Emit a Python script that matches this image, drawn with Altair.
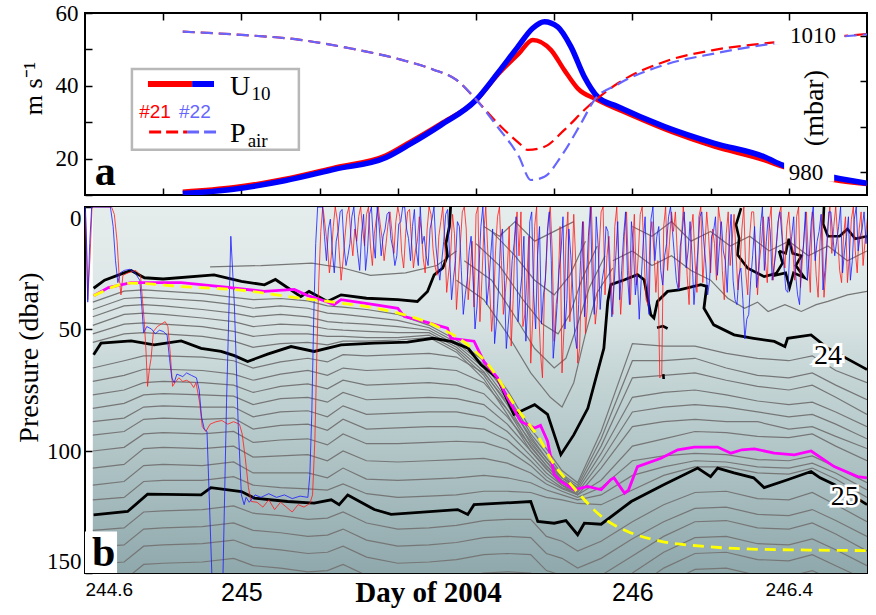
import altair as alt
import pandas as pd

SERIF = "Liberation Serif"
SANS = "Liberation Sans"

# ---------------- (a) wind speed U10 and air pressure, floats #21 / #22 ----------------
u10_21_day = [244.85, 244.98, 245.11, 245.24, 245.37, 245.43, 245.51, 245.60, 245.655, 245.71, 245.745,
              245.792, 245.826, 245.86, 245.911, 245.996, 246.099, 246.21, 246.337, 246.384, 246.516, 246.6]
u10_21 = [10.9, 12.1, 14.4, 17.6, 20.9, 24.5, 29.6, 36.0, 43.0, 48.9, 52.6,
          49.8, 44.3, 39.3, 36.1, 32.0, 27.4, 23.3, 19.6, 17.8, 14.1, 13.0]
u10_22_day = [244.85, 244.98, 245.11, 245.24, 245.37, 245.43, 245.51, 245.60, 245.655, 245.707, 245.745,
              245.775, 245.809, 245.843, 245.877, 245.911, 245.962, 246.082, 246.21, 246.337, 246.384, 246.516, 246.6]
u10_22 = [10.4, 11.6, 13.9, 17.1, 20.3, 23.9, 29.2, 36.1, 43.4, 50.7, 55.8,
          57.6, 56.2, 50.7, 42.5, 37.0, 34.3, 28.8, 24.2, 20.5, 18.2, 14.8, 13.2]
pair_21_day = [244.85, 244.98, 245.15, 245.28, 245.41, 245.49, 245.55, 245.60, 245.655, 245.71, 245.732,
               245.775, 245.826, 245.886, 245.962, 246.082, 246.21, 246.337, 246.45, 246.52, 246.6]
pair_21 = [1010.9, 1010.3, 1009.1, 1007.2, 1004.7, 1002.6, 1000.3, 996.0, 990.8, 986.4, 984.9,
           985.6, 989.3, 994.4, 999.5, 1004.3, 1006.9, 1008.3, 1009.3, 1009.8, 1010.4]
pair_22_day = [244.85, 244.98, 245.15, 245.28, 245.41, 245.49, 245.55, 245.60, 245.655, 245.71, 245.74,
               245.775, 245.817, 245.869, 245.903, 245.962, 246.082, 246.21, 246.337, 246.45, 246.52, 246.6]
pair_22 = [1010.9, 1010.3, 1009.1, 1007.2, 1004.7, 1002.6, 1000.3, 996.0, 990.0, 983.4, 978.3,
           979.0, 983.4, 990.8, 995.9, 999.3, 1003.6, 1006.1, 1008.0, 1009.1, 1009.7, 1010.3]
pair_ticks = [980, 990, 1000, 1010]
pair_labels = ["1010", "980"]

# ---------------- (b) pressure section ----------------
# sampling days shared by the gray isopycnals
T = [244.62, 244.70, 244.75, 244.80, 244.90, 244.98, 245.03, 245.10, 245.17, 245.22, 245.26, 245.32,
     245.40, 245.48, 245.55, 245.62, 245.68, 245.74, 245.78, 245.82, 245.86, 245.92, 246.00, 246.08,
     246.16, 246.24, 246.32, 246.40, 246.46, 246.52, 246.60]
gray_iso = [
    [39, 34.5, 34, 34.5, 35.5, 37, 38, 37.5, 38.5, 40.5, 41, 42, 44, 48.5, 54.5, 63, 75, 91, 99, 108, 113, 92, 56, 57, 57, 60, 62, 63, 61, 67, 72],
    [42, 37.5, 37, 37.5, 38.5, 40, 41.5, 40.5, 41.5, 43.5, 44, 45, 46.5, 49.5, 55.5, 64.5, 77, 93, 101, 109.5, 114, 95, 63, 63, 62, 66, 69, 70, 68, 73, 79],
    [45, 40.5, 40, 40.5, 42, 43.5, 45, 44, 45, 47, 47.5, 48, 49, 50.5, 56.5, 66, 79, 95, 103, 111, 115, 98, 70, 69, 68, 71, 73.5, 75, 73, 78, 85],
    [48.5, 44, 43.5, 44, 45.5, 47, 49, 48, 48.5, 50, 50.5, 51, 51.5, 51.5, 57.5, 67.5, 81, 97, 104.5, 112, 116, 101, 78, 76, 75, 77, 79.5, 81, 80, 84, 90],
    [52, 48, 47.5, 48, 49, 51, 53, 52, 52, 53, 53, 53.5, 53.5, 52.5, 58.5, 69, 83, 98.5, 106, 113, 117, 104, 84, 82, 81, 82, 84, 86, 85, 89, 95],
    [55.5, 52, 51.5, 52, 53, 55, 57.5, 56, 55.5, 56.5, 55, 55, 54.5, 53.5, 59.5, 70.5, 85, 100, 107, 114, 118, 107, 90, 88, 87, 88, 88, 91, 90, 94, 99],
    [66, 63, 61, 61, 61.5, 63, 66, 63.5, 62, 63.5, 60.5, 61, 60.5, 60, 61.5, 68, 80, 94, 103, 110, 115],
    [71.5, 69, 66.5, 66.5, 67, 68.5, 71, 68.5, 67, 69, 66, 67, 66.5, 66, 67, 72, 83, 96, 104.5, 111, 115.5],
    [77, 75, 72, 71.5, 72, 73, 76, 73.5, 72.5, 74.5, 71, 73, 72.5, 72, 73, 76.5, 86, 98, 106, 112, 116],
    [82.5, 80.5, 77, 76.5, 77, 77.5, 81, 78.5, 78, 80, 76, 79, 78.5, 78, 78.5, 81, 89, 100, 107.5, 113, 116.5],
    [88, 86.5, 82, 81.5, 82, 82, 86, 84, 83.5, 86, 81.5, 85, 84.5, 84, 84, 86, 92, 102, 109, 114, 117],
    [93.5, 92, 87, 86.5, 87, 86.5, 91, 89.5, 89, 91.5, 87, 91, 90.5, 90, 90, 91, 95.5, 104, 110.5, 115, 117.5],
    [100, 98.5, 93, 92.5, 93, 92, 96.5, 95.5, 95, 97.5, 93, 97, 97, 96.5, 96, 96.5, 99.5, 106, 112, 115.5, 118, 112, 98, 95, 92, 92.5, 94, 94.5, 93, 98, 104],
    [107, 105.5, 99, 98.5, 99, 98, 102.5, 102, 101.5, 104, 100, 104, 104.5, 104, 103.5, 103, 105, 109, 113.5, 116.5, 119, 115, 104, 102, 101, 101.5, 103.5, 104, 102, 106.5, 113],
    [114, 112.5, 106, 105.5, 106, 104.5, 109, 109, 109, 111, 107, 111.5, 112, 111.5, 111, 110, 111, 113, 116, 118, 120, 118, 110, 106.5, 104, 104.5, 106.5, 107, 105, 109, 116],
    [120, 119, 112.5, 112, 112, 110.5, 114, 115, 115.5, 116, 113.5, 117.5, 119, 118.5, 118, 116.5, 116.5, 117, 119, 120, 121.5, 122, 116, 110, 106.5, 106.5, 109, 109.5, 107, 111.5, 119],
    [132.5, 131.5, 125, 124.5, 124, 122.5, 125.5, 126.5, 128, 127.5, 125, 129.5, 132, 131.5, 130.5, 128.5, 128, 128, 135, 137, 141, 137, 129, 122, 117, 116.5, 119.5, 120, 117, 122, 129],
    [139.5, 138.5, 132, 131.5, 131, 129.5, 132.5, 133.5, 135, 134.5, 132, 136.5, 139, 138.5, 137.5, 135.5, 135, 135.5, 142, 144, 148, 144, 136, 129, 123.5, 123, 126, 126.5, 124, 128.5, 135],
    [146.5, 145.5, 139, 138.5, 138, 136.5, 139.5, 140.5, 142, 141.5, 139, 143.5, 146, 145.5, 144.5, 142.5, 142, 142.5, 149, 151, 155, 151, 143, 135, 129, 128.5, 131.5, 132, 129.5, 134, 141],
    [154, 153, 146.5, 146, 145.5, 144, 147, 148, 149.5, 149, 146.5, 151, 153.5, 153, 152, 150, 149.5, 150, 156, 158, 162, 158, 150, 141.5, 135.5, 135, 138, 138.5, 136, 140.5, 147],
    [161, 160, 154, 153.5, 153, 151.5, 154.5, 155.5, 157, 156.5, 154, 158.5, 161, 160.5, 159.5, 157.5, 157, 157.5, 163, 165, 169, 165, 157, 148, 142, 141.5, 144.5, 145, 142.5, 147, 153],
    [168, 167, 161, 160.5, 160, 158.5, 161.5, 162.5, 164, 163.5, 161, 165.5, 168, 167.5, 166.5, 164.5, 164, 164.5, 170, 172, 176, 172, 164, 155, 148.5, 148, 151, 151.5, 149, 153.5, 160],
]
# contours pushed down inside the trough, and the wavy ones near the surface
funnel_day = [
    [245.55, 245.62, 245.68, 245.74, 245.79, 245.82, 245.85, 245.88, 245.91, 245.95],
    [245.57, 245.64, 245.70, 245.75, 245.80, 245.83, 245.86, 245.89, 245.93],
    [245.60, 245.66, 245.72, 245.77, 245.81, 245.84, 245.87, 245.91],
    [245.64, 245.70, 245.75, 245.80, 245.84, 245.88],
    [244.92, 245.05, 245.18, 245.26, 245.33, 245.42, 245.50, 245.55],
    [245.95, 246.0, 246.05, 246.1, 246.15, 246.2, 246.244, 246.287, 246.32, 246.347, 246.39, 246.432, 246.47, 246.5, 246.55, 246.6],
    [246.0, 246.05, 246.1, 246.15, 246.2, 246.25, 246.3, 246.35, 246.4, 246.45, 246.5, 246.55, 246.6],
    [245.62, 245.66, 245.70, 245.75, 245.80, 245.85],
]
funnel_p = [
    [30, 38, 52, 68, 78, 82, 72, 52, 35, 25],
    [22, 30, 45, 58, 66, 62, 48, 33, 20],
    [15, 24, 38, 48, 52, 44, 30, 16],
    [10, 20, 30, 36, 28, 14],
    [24.5, 24, 23, 25, 28, 27, 24, 18],
    [22, 18, 24, 20, 26, 30, 37.4, 41.5, 39, 42.8, 40, 42.8, 40, 38.7, 36, 34.6],
    [8, 12, 6, 14, 10, 16, 12, 18, 14, 20, 16, 22, 18],
    [8, 12, 6, 14, 10, 6],
]

# bold isopycnals
top_black_day = [244.622, 244.65, 244.70, 244.718, 244.752, 244.80, 244.93, 245.0, 245.059, 245.087, 245.152, 245.173,
                 245.22, 245.255, 245.32, 245.40, 245.45, 245.476, 245.493, 245.515, 245.527, 245.523, 245.532, 245.535]
top_black_p = [33.3, 30, 27, 26, 29, 29.5, 27.8, 30.5, 31.9, 29.7, 36.7, 34.6,
               38.7, 36, 37.4, 38, 38.7, 34.6, 27.8, 25, 20, 15, 8, 0]
iso24_day = [244.622, 244.641, 244.718, 244.777, 244.846, 244.897, 244.948, 244.982, 245.016, 245.067, 245.127, 245.186,
             245.255, 245.34, 245.425, 245.49, 245.536, 245.58, 245.613, 245.655, 245.697, 245.75, 245.783, 245.817,
             245.85, 245.886, 245.927, 245.937, 245.945, 245.98, 246.013, 246.03, 246.047, 246.055, 246.064, 246.09,
             246.12, 246.175, 246.19, 246.183, 246.208, 246.26, 246.31, 246.363, 246.39, 246.397, 246.457, 246.50,
             246.577, 246.6]
iso24_p = [60.6, 55.8, 54.9, 56.5, 54.9, 57.9, 59.2, 60.9, 63.3, 60.3, 57.2, 59.2,
           56.5, 55.8, 55.4, 53.8, 55.1, 57.9, 64.7, 70.2, 85, 81, 85, 101.5,
           93.4, 82.5, 57.9, 38.7, 31.8, 29.8, 27.7, 29.8, 44.2, 45.5, 38.7, 34.6,
           34, 31.8, 32.5, 41.5, 48.3, 52.4, 53.8, 55.1, 57.2, 53.8, 52.4, 57.9,
           64.6, 66.6]
iso25_day = [244.622, 244.709, 244.76, 244.897, 244.922, 245.0, 245.033, 245.118, 245.186, 245.23, 245.25, 245.272,
             245.34, 245.383, 245.553, 245.579, 245.595, 245.74, 245.758, 245.8, 245.83, 245.86, 245.877, 245.92,
             245.997, 246.08, 246.167, 246.2, 246.218, 246.26, 246.31, 246.337, 246.397, 246.457, 246.48, 246.52, 246.6]
iso25_p = [126.2, 124.8, 117.7, 118, 115, 116.6, 119.3, 120.7, 121.4, 120, 122, 118,
           124, 126, 124, 126, 122, 120.7, 128.9, 129.6, 128.5, 134.3, 129.6, 130,
           120.7, 113.8, 107, 110.5, 107, 109, 111, 115, 111.8, 108.4, 111, 114, 122]
patch_day = [
    [246.278, 246.265, 246.273, 246.269, 246.295, 246.337, 246.371],
    [246.375, 246.392, 246.400, 246.410, 246.432, 246.418, 246.440, 246.412, 246.402, 246.392, 246.365, 246.384, 246.375],
    [246.49, 246.488, 246.50, 246.53, 246.55, 246.57, 246.6],
    [246.063, 246.078, 246.09],
    [246.079, 246.08],
]
patch_p = [
    [0.5, 7.3, 12.8, 19.6, 25.1, 28.5, 27.1],
    [18, 19, 13, 19, 20, 24, 29, 27, 33, 27, 28, 23, 18],
    [0, 7, 12, 12, 9, 13, 12],
    [49.5, 48.8, 49.8],
    [68.5, 70.5],
]

magenta_day = [244.622, 244.66, 244.718, 244.846, 244.948, 245.058, 245.135, 245.17, 245.204, 245.237, 245.255, 245.34,
               245.40, 245.417, 245.468, 245.527, 245.536, 245.595, 245.62, 245.655, 245.681, 245.715, 245.75, 245.765,
               245.783, 245.80, 245.817, 245.851, 245.886, 245.92, 245.945, 245.953, 245.98, 245.99, 246.013, 246.073,
               246.116, 246.158, 246.218, 246.252, 246.28, 246.312, 246.363, 246.414, 246.457, 246.516, 246.576, 246.6]
magenta_p = [36.4, 33, 31, 31, 32.6, 34.6, 33.8, 36.3, 38, 40, 38, 40,
             41.5, 44.9, 47, 49.7, 53.8, 55, 63.3, 70, 78.4, 88, 90.6, 89.5,
             96, 109.6, 112.5, 115.9, 114.5, 115.9, 111.7, 111, 117.3, 116, 106.4, 103,
             99.5, 98.4, 98.4, 100.9, 99.5, 99.1, 100.9, 101.6, 100, 106.4, 110.5, 111]
yellow_day = [244.622, 244.718, 244.846, 245.016, 245.118, 245.255, 245.383, 245.51, 245.579, 245.638, 245.698,
              245.766, 245.80, 245.843, 245.93, 245.988, 246.073, 246.176, 246.304, 246.45, 246.6]
yellow_p = [36.4, 31.2, 32.6, 34.4, 36.7, 39.4, 42.8, 49.7, 56.5, 66, 81,
            96, 105.6, 113.8, 128, 133, 137, 139, 140.2, 140.6, 140.8]

# mixed-layer depth, float #21 (red) and #22 (blue)
red_day = [244.601, 244.607, 244.613, 244.618, 244.668, 244.675, 244.682, 244.688, 244.692, 244.697, 244.71, 244.73,
           244.742, 244.747, 244.752, 244.756, 244.760, 244.765, 244.769, 244.775, 244.785, 244.795, 244.805, 244.812,
           244.818, 244.824, 244.83, 244.84, 244.85, 244.86, 244.87, 244.878, 244.884, 244.893, 244.90, 244.909,
           244.92, 244.935, 244.95, 244.965, 244.98, 244.995, 245.002, 245.01, 245.018, 245.025, 245.04, 245.055,
           245.07, 245.085, 245.10, 245.115, 245.13, 245.145, 245.16, 245.175, 245.182, 245.188, 245.193, 245.198,
           245.203, 245.208]
red_p = [2, 38, 20, 0, 0, 3, 14, 30, 36, 28, 27, 26,
         28, 38, 48, 59, 73.5, 66, 62, 51, 49, 48, 47, 49,
         60, 73.5, 72, 70, 71.5, 71, 72, 74, 72, 80, 90, 92,
         89, 88, 87.5, 89, 88, 89, 93, 103, 115, 120.7, 121, 123,
         120, 124, 121, 123, 125, 122, 123, 121.5, 118, 95, 60, 30,
         10, 0]
# later samples every 0.005 day from 245.21
red_late = [2, 9, 16, 27, 20, 8, 0, 5, 18, 30, 22, 12, 3, 0, 12, 20, 9, 14, 4, 0,
            9, 16, 3, 0, 16, 24, 11, 5, 0, 7, 13, 22, 15, 7, 2, 10, 19, 6, 0, 4,
            19, 25, 11, 2, 1, 14, 25, 18, 14, 4, 9, 21, 27, 9, 0, 3, 17, 24, 28, 12,
            6, 0, 14, 35, 27, 20, 3, 11, 42, 30, 15, 2, 0, 9, 38, 28, 14, 41, 3, 0,
            47, 30, 10, 0, 18, 33, 51, 40, 18, 4, 0, 22, 44, 35, 26, 8, 57, 38, 12, 2,
            20, 2, 49, 44, 30, 12, 64, 46, 8, 0, 41, 60, 70, 35, 22, 5, 0, 18, 55, 40,
            33, 8, 68, 50, 14, 2, 47, 30, 3, 22, 64, 58, 28, 6, 52, 40, 9, 0, 25, 48,
            40, 18, 2, 0, 36, 20, 12, 30, 44, 8, 0, 24, 44, 30, 10, 2, 26, 40, 18, 3,
            32, 20, 3, 0, 21, 38, 40, 12, 6, 18, 35, 22, 70, 69, 8, 0, 26, 14, 2, 10,
            2, 20, 33, 14, 0, 8, 28, 40, 10, 3, 22, 35, 4, 0, 31, 18, 2, 12, 27, 9,
            15, 30, 0, 6, 26, 38, 11, 2, 24, 14, 3, 19, 34, 25, 9, 0, 27, 36, 12, 2,
            2, 18, 36, 22, 15, 4, 22, 31, 6, 0, 30, 20, 12, 3, 0, 17, 25, 8, 2, 14,
            17, 30, 4, 0, 33, 21, 10, 2, 21, 35, 2, 12, 28, 37, 14, 3, 37, 25, 8, 0,
            19, 8, 0, 12, 26, 31, 12, 4, 31, 20, 5, 0, 18, 27, 9, 2, 24, 14, 6, 0]
blue_day = [244.601, 244.605, 244.607, 244.612, 244.617, 244.665, 244.672, 244.678, 244.684, 244.69, 244.70, 244.715,
            244.728, 244.74, 244.745, 244.75, 244.758, 244.77, 244.78, 244.79, 244.80, 244.81, 244.816, 244.822,
            244.828, 244.835, 244.85, 244.86, 244.872, 244.885, 244.892, 244.898, 244.905, 244.912, 244.918, 244.926,
            244.952, 244.962, 244.973, 244.982, 244.992, 245.0, 245.007, 245.012, 245.02, 245.035, 245.05, 245.07,
            245.09, 245.11, 245.13, 245.15, 245.17, 245.175, 245.18, 245.185, 245.19, 245.195]
blue_p = [0, 20, 39, 15, 0, 0, 8, 22, 31, 27, 26, 25.5,
          27, 30, 40, 51.5, 49, 50, 52, 50.5, 51, 52.5, 62, 70,
          72, 68.5, 69.5, 68, 69, 70, 75, 86, 91, 92, 120, 158,
          158, 80, 12, 40, 90, 118, 122, 119, 121, 118, 119, 117.5,
          119, 118, 119.5, 118.5, 119, 110, 85, 45, 15, 0]
# later samples every 0.005 day from 245.2075
blue_late = [0, 12, 22, 9, 5, 18, 27, 14, 10, 2, 1, 16, 24, 20, 15, 4, 0, 11, 19, 26,
             11, 3, 26, 18, 3, 0, 14, 21, 0, 8, 20, 12, 9, 3, 2, 13, 17, 24, 20, 7,
             6, 0, 0, 9, 13, 22, 8, 1, 18, 24, 0, 15, 12, 20, 24, 9, 5, 0, 16, 24,
             30, 22, 14, 3, 1, 20, 38, 29, 22, 6, 8, 26, 44, 36, 30, 18, 12, 28, 50, 41,
             25, 8, 0, 16, 40, 32, 20, 9, 56, 47, 34, 14, 9, 30, 58, 48, 38, 22, 15, 4,
             47, 36, 28, 12, 55, 40, 6, 2, 36, 50, 20, 8, 48, 36, 30, 10, 2, 22, 62, 52,
             40, 26, 18, 4, 50, 38, 9, 20, 34, 52, 58, 40, 22, 6, 45, 30, 12, 0, 30, 44,
             4, 16, 42, 30, 25, 8, 10, 30, 45, 34, 20, 6, 38, 26, 12, 2, 28, 40, 6, 16,
             36, 28, 46, 30, 15, 4, 30, 44, 5, 0, 22, 12, 8, 26, 32, 20, 15, 4, 0, 10,
             20, 30, 34, 16, 10, 2, 25, 18, 6, 20, 40, 28, 18, 4, 2, 14, 23, 36, 30, 12,
             10, 4, 28, 16, 6, 18, 22, 35, 14, 3, 30, 38, 40, 28, 25, 38, 54, 46, 44, 30,
             20, 8, 33, 26, 8, 0, 26, 14, 4, 10, 30, 24, 18, 6, 2, 12, 24, 34, 35, 18,
             12, 4, 28, 36, 40, 22, 16, 2, 30, 20, 6, 0, 22, 14, 10, 3, 34, 26, 15, 2,
             2, 12, 20, 14, 8, 0, 27, 18, 12, 4, 30, 22, 5, 0, 18, 12, 9, 2, 15, 6]

# light upper layer (left part) painted over the shading
mixed_day = [244.62, 244.70, 244.85, 245.0, 245.1, 245.2, 245.3, 245.45, 245.5, 245.53, 245.56]
mixed_p = [38, 33, 34, 36, 37, 40, 41, 43, 38, 26, 0]

# ---------------------------------------------------------------------------
XSC = alt.Scale(domain=[244.6, 246.6], nice=False, zero=False)
YA = alt.Scale(domain=[10, 60], nice=False, zero=False)
YP = alt.Scale(domain=[975, 1015], nice=False, zero=False)
YB = alt.Scale(domain=[0, 150], nice=False, zero=False, reverse=True)

TICKS_X = [244.8, 245.0, 245.2, 245.4, 245.6, 245.8, 246.0, 246.2, 246.4]


def tick_axis(orient, values):
    return alt.Axis(orient=orient, values=values, labels=False, tickSize=7, tickWidth=1.5,
                    tickColor="black", offset=-7, domain=False, grid=False, title=None)


AX_A_XB = tick_axis("bottom", TICKS_X)
AX_A_XT = tick_axis("top", TICKS_X)
AX_A_YR = tick_axis("right", pair_ticks)
AX_A_YL = alt.Axis(orient="left", values=[10, 20, 30, 40, 50, 60],
                   labelExpr="datum.value % 20 == 0 ? datum.label : ''",
                   tickSize=7, tickWidth=1.5, tickColor="black", offset=-7, domain=False, grid=False,
                   labelFont=SERIF, labelFontSize=23, labelColor="black", labelPadding=7,
                   title="m s⁻¹", titleFont=SERIF, titleFontSize=26, titleFontWeight="normal",
                   titleColor="black", titleX=-59, titleY=75, titleAlign="center",
                   titleBaseline="middle", titleAngle=270)

AX_B_XT = tick_axis("top", TICKS_X)
AX_B_YR = tick_axis("right", [50, 100])
AX_B_YL = alt.Axis(orient="left", values=[0, 50, 100, 150], labelFlush=True,
                   tickSize=7, tickWidth=1.5, tickColor="black", offset=-7, domain=False, grid=False,
                   labelFont=SERIF, labelFontSize=23, labelColor="black", labelPadding=4,
                   title="Pressure (dbar)", titleFont=SERIF, titleFontSize=28, titleFontWeight="normal",
                   titleColor="black", titleX=-63, titleY=150, titleAlign="center",
                   titleBaseline="middle", titleAngle=270)
AX_B_XB = alt.Axis(orient="bottom", values=[244.6] + TICKS_X,
                   labelExpr=("abs(datum.value-245)<0.01 ? '245' : abs(datum.value-246)<0.01 ? '246' : "
                              "abs(datum.value-244.6)<0.01 ? '244.6' : abs(datum.value-246.4)<0.01 ? '246.4' : ''"),
                   labelFontSize={"condition": {"test": "abs(datum.value-245)<0.01 || abs(datum.value-246)<0.01",
                                                "value": 25}, "value": 19},
                   labelFont=SANS, labelColor="black", labelPadding=7, labelOverlap=False,
                   tickSize=7, tickWidth=1.5, tickColor="black", offset=-7, domain=False, grid=False,
                   title="Day of 2004", titleFont=SERIF, titleFontSize=29, titleFontWeight="bold",
                   titleColor="black", titleX=343, titleY=35, titleAlign="center", titleBaseline="alphabetic")


def frame(day, val, name="s"):
    return pd.DataFrame({"day": list(day), "v": list(val), "k": list(range(len(day))), "s": name})


def line(df, axx, axy, ysc, **mark):
    return alt.Chart(df).mark_line(clip=True, **mark).encode(
        x=alt.X("day:Q", scale=XSC, axis=axx),
        y=alt.Y("v:Q", scale=ysc, axis=axy),
        detail="s:N", order="k:Q")


def text(df, axx, axy, ysc, **mark):
    return alt.Chart(df).mark_text(**mark).encode(
        x=alt.X("day:Q", scale=XSC, axis=axx),
        y=alt.Y("v:Q", scale=ysc, axis=axy),
        text="t:N")


def box(x0, x1, y0, y1, axx, axy, ysc, **mark):
    df = pd.DataFrame({"x0": [x0], "x1": [x1], "y0": [y0], "y1": [y1]})
    return alt.Chart(df).mark_rect(**mark).encode(
        x=alt.X("x0:Q", scale=XSC, axis=axx), x2="x1:Q",
        y=alt.Y("y0:Q", scale=ysc, axis=axy), y2="y1:Q")


def label(day, v, t):
    return pd.DataFrame({"day": [day], "v": [v], "t": [t]})


# ----------------------------- panel (a) -----------------------------
LA = dict(axx=AX_A_XB, axy=AX_A_YL, ysc=YA)
RA = dict(axx=AX_A_XT, axy=AX_A_YR, ysc=YP)

left_a = alt.layer(
    line(frame(u10_21_day, u10_21), color="#ff0000", strokeWidth=4.5, interpolate="monotone", **LA),
    line(frame(u10_22_day, u10_22), color="#0000ff", strokeWidth=5.5, interpolate="monotone", **LA),
    box(244.72, 245.147, 22.4, 44.6, fill="white", stroke="#b8b8b8", strokeWidth=2.5, **LA),
    line(frame([244.761, 244.874], [40.5, 40.5]), color="#ff0000", strokeWidth=6, strokeCap="butt", **LA),
    line(frame([244.874, 244.93], [40.5, 40.5]), color="#0000ff", strokeWidth=6, strokeCap="butt", **LA),
    line(frame([244.764, 244.861], [27.3, 27.3]), color="#ff0000", strokeWidth=3, strokeDash=[12, 5], **LA),
    line(frame([244.861, 244.948], [27.3, 27.3]), color="#6666ff", strokeWidth=3, strokeDash=[12, 5], **LA),
    text(label(244.971, 37.4, "U"), font=SERIF, fontSize=28, align="left", baseline="alphabetic", color="black", **LA),
    text(label(245.026, 36.2, "10"), font=SERIF, fontSize=19, align="left", baseline="alphabetic", color="black", **LA),
    text(label(244.971, 24.5, "P"), font=SERIF, fontSize=28, align="left", baseline="alphabetic", color="black", **LA),
    text(label(245.016, 23.3, "air"), font=SERIF, fontSize=19, align="left", baseline="alphabetic", color="black", **LA),
    text(label(244.779, 31.2, "#21"), font=SANS, fontSize=19, align="center", baseline="alphabetic", color="#ff0000", **LA),
    text(label(244.881, 31.2, "#22"), font=SANS, fontSize=19, align="center", baseline="alphabetic", color="#6666ff", **LA),
    text(label(244.652, 12.7, "a"), font=SERIF, fontSize=42, fontWeight="bold", align="center", baseline="alphabetic", color="black", **LA),
)

right_a = alt.layer(
    line(frame(pair_21_day, pair_21), color="#ff0000", strokeWidth=2.2, strokeDash=[12, 6], interpolate="monotone", **RA),
    line(frame(pair_22_day, pair_22), color="#6666ff", strokeWidth=2.2, strokeDash=[12, 6], interpolate="monotone", **RA),
    box(246.363, 246.542, 1008.0, 1012.1, fill="white", **RA),
    box(246.388, 246.516, 977.9, 982.3, fill="white", **RA),
    text(label(246.462, 1010.0, pair_labels[0]), font=SERIF, fontSize=23, align="center", baseline="middle", color="black", **RA),
    text(label(246.444, 979.8, pair_labels[1]), font=SERIF, fontSize=23, align="center", baseline="middle", color="black", **RA),
    text(label(246.467, 994.1, "(mbar)"), font=SERIF, fontSize=28, angle=270, align="center", baseline="middle", color="black", **RA),
)

panel_a = alt.layer(left_a, right_a).resolve_scale(y="independent").resolve_axis(
    x="independent", y="independent").properties(width=782, height=182)

# ----------------------------- panel (b) -----------------------------
LB = dict(axx=AX_B_XB, axy=AX_B_YL, ysc=YB)
RB = dict(axx=AX_B_XT, axy=AX_B_YR, ysc=YB)

shade = alt.Gradient(gradient="linear", x1=0, x2=0, y1=0, y2=1, stops=[
    alt.GradientStop(color="#e5ecec", offset=0.0),
    alt.GradientStop(color="#dfe8e8", offset=0.2),
    alt.GradientStop(color="#d6e1e1", offset=0.33),
    alt.GradientStop(color="#c9d8d9", offset=0.42),
    alt.GradientStop(color="#bdcfd0", offset=0.55),
    alt.GradientStop(color="#aec2c4", offset=0.7),
    alt.GradientStop(color="#9fb6b9", offset=0.85),
    alt.GradientStop(color="#8fa8ab", offset=1.0),
])
whiten = alt.Gradient(gradient="linear", x1=0, x2=0, y1=0, y2=1, stops=[
    alt.GradientStop(color="#ffffff", offset=0.0),
    alt.GradientStop(color="#ffffff", offset=0.65),
    alt.GradientStop(color="rgba(255,255,255,0.3)", offset=1.0),
])

mixed_df = frame(mixed_day, mixed_p)
mixed_df["z"] = 0.0
mixed_layer = alt.Chart(mixed_df).mark_area(color=whiten, clip=True).encode(
    x=alt.X("day:Q", scale=XSC, axis=AX_B_XB),
    y=alt.Y("v:Q", scale=YB, axis=AX_B_YL), y2="z:Q", order="k:Q")

gray_df = pd.concat([frame(T[:len(vals)], vals, f"g{i}") for i, vals in enumerate(gray_iso)] +
                    [frame(d, p, f"f{i}") for i, (d, p) in enumerate(zip(funnel_day, funnel_p))],
                    ignore_index=True)
patch_df = pd.concat([frame(d, p, f"b{i}") for i, (d, p) in enumerate(zip(patch_day, patch_p))], ignore_index=True)

red_all = frame(red_day + [round(245.21 + 0.005 * i, 4) for i in range(len(red_late))], red_p + red_late, "r")
blue_all = frame(blue_day + [round(245.2075 + 0.005 * i, 4) for i in range(len(blue_late))], blue_p + blue_late, "b")

base_b = alt.layer(
    box(244.62, 246.6, 0, 150, color=shade, **LB),
    mixed_layer,
    line(gray_df, color="#767676", strokeWidth=1.2, **LB),
    line(frame(top_black_day, top_black_p), color="black", strokeWidth=2.8, **LB),
    line(frame(iso24_day, iso24_p), color="black", strokeWidth=2.8, **LB),
    line(frame(iso25_day, iso25_p), color="black", strokeWidth=2.8, **LB),
    line(patch_df, color="black", strokeWidth=2.6, **LB),
)

over_b = alt.layer(
    line(red_all, color="#ff1a1a", strokeWidth=0.8, **RB),
    line(blue_all, color="#1a1aff", strokeWidth=0.8, **RB),
    line(frame(magenta_day, magenta_p), color="#ff00ff", strokeWidth=2.8, **RB),
    line(frame(yellow_day, yellow_p), color="#ffff00", strokeWidth=2.8, strokeDash=[11, 7], interpolate="monotone", **RB),
    text(label(246.5, 61, "24"), font=SERIF, fontSize=28, align="center", baseline="middle", color="white", stroke="white", strokeWidth=6, **RB),
    text(label(246.5, 61, "24"), font=SERIF, fontSize=28, align="center", baseline="middle", color="black", **RB),
    text(label(246.543, 119, "25"), font=SERIF, fontSize=28, align="center", baseline="middle", color="white", stroke="white", strokeWidth=5, **RB),
    text(label(246.543, 119, "25"), font=SERIF, fontSize=28, align="center", baseline="middle", color="black", **RB),
    box(244.6, 244.682, 133, 150, fill="white", **RB),
    text(label(244.648, 147, "b"), font=SERIF, fontSize=42, fontWeight="bold", align="center", baseline="alphabetic", color="black", **RB),
)

panel_b = alt.layer(base_b, over_b).resolve_axis(x="independent", y="independent").properties(width=782, height=366)

chart = alt.vconcat(panel_a, panel_b, spacing=8).properties(
    padding={"left": 14, "top": 1, "right": 5, "bottom": 0}
).configure_view(stroke="black", strokeWidth=2).configure_axis(grid=False)

chart.save("out.html", embed_options={"renderer": "svg", "actions": False})
